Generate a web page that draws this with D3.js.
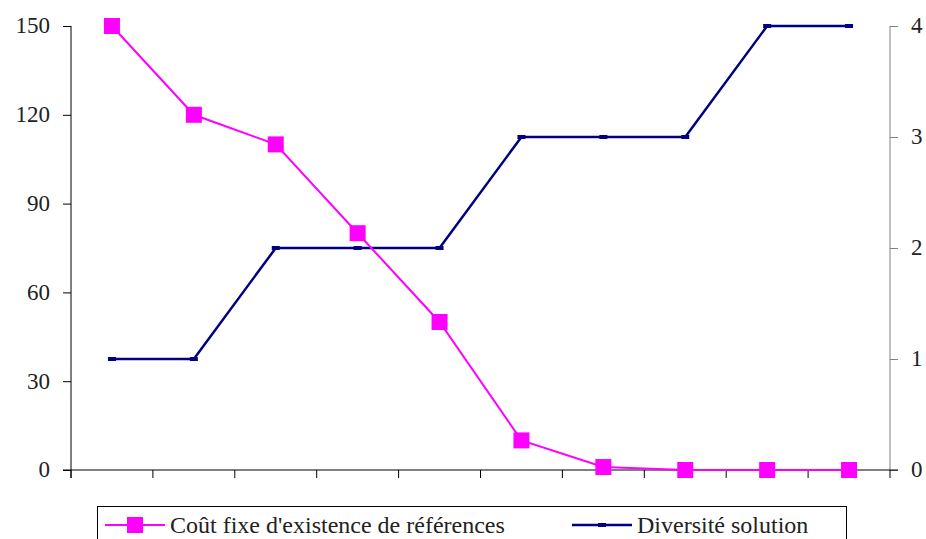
<!DOCTYPE html>
<html>
<head>
<meta charset="utf-8">
<script src="https://cdn.jsdelivr.net/npm/d3@7"></script>
<style>
  body { margin: 0; background: #fff; font-family: 'Liberation Serif', serif; }
  #chart { width: 926px; height: 539px; }
  #chart text { font-family: 'Liberation Serif', serif; }
  #preload { position: absolute; left: 0; top: 0; visibility: hidden; font-family: 'Liberation Serif'; }
</style>
</head>
<body>
<div id="preload">0123456789 Coût fixe d'existence de références Diversité solution</div>
<div id="chart"></div>
<script>
//Datos
const categories = [1, 2, 3, 4, 5, 6, 7, 8, 9, 10];
const coutFixe = [150, 120, 110, 80, 50, 10, 1, 0, 0, 0];
const diversite = [1, 1, 2, 2, 2, 3, 3, 3, 4, 4];
const leftTicks = [0, 30, 60, 90, 120, 150];
const rightTicks = [0, 1, 2, 3, 4];
const seriesNames = ["Coût fixe d'existence de références", "Diversité solution"];

const COLOR_MAGENTA = '#FF00FF',
    COLOR_NAVY = '#000080',
    FONT = 'Liberation Serif';

//Márgenes
let margin = {top: 26, right: 36, bottom: 69, left: 71},
    width = 926 - margin.left - margin.right,
    height = 539 - margin.top - margin.bottom;

let root = d3.select('#chart')
    .append('svg')
        .attr('width', 926)
        .attr('height', 539)
        .attr('font-family', FONT);

let svg = root.append('g')
    .attr('transform', 'translate(' + margin.left + ',' + margin.top + ')');

let x = d3.scaleBand()
    .domain(categories)
    .range([0, width]);

let yLeft = d3.scaleLinear().domain([0, 150]).range([height, 0]);
let yRight = d3.scaleLinear().domain([0, 4]).range([height, 0]);

//Eje izquierdo
let gLeft = svg.append('g')
    .call(d3.axisLeft(yLeft).tickValues(leftTicks).tickFormat(d3.format('d')).tickSize(8).tickPadding(13))
    .attr('font-family', FONT).attr('font-size', 23);
gLeft.select('.domain').attr('d', 'M0,0V' + (height + 8));
gLeft.selectAll('text').attr('fill', '#222').attr('dy', '0.3em');

//Eje derecho
let gRight = svg.append('g')
    .attr('transform', 'translate(' + width + ',0)')
    .call(d3.axisRight(yRight).tickValues(rightTicks).tickFormat(d3.format('d')).tickSize(8).tickPadding(13))
    .attr('font-family', FONT).attr('font-size', 23);
gRight.select('.domain').attr('d', 'M0,0V' + height).attr('stroke', '#808080');
gRight.selectAll('.tick line').attr('stroke', '#808080');
gRight.selectAll('text').attr('fill', '#222').attr('dy', '0.3em');

//Eje inferior: marcas entre categorías
let gBottom = svg.append('g')
    .attr('transform', 'translate(0,' + height + ')');
gBottom.append('line')
    .attr('x1', -8).attr('x2', width + 8)
    .attr('stroke', '#000');
gBottom.selectAll('line.tk')
    .data(categories.concat(['end']))
    .enter()
    .append('line')
    .attr('class', 'tk')
    .attr('x1', function(d, i) { return i * x.step(); })
    .attr('x2', function(d, i) { return i * x.step(); })
    .attr('y1', 0).attr('y2', 8)
    .attr('stroke', '#000');

function cx(d, i) { return x(categories[i]) + x.bandwidth() / 2; }

//Línea diversidad
svg.append('path')
    .datum(diversite)
    .attr('fill', 'none')
    .attr('stroke', COLOR_NAVY)
    .attr('stroke-width', 2.5)
    .attr('d', d3.line().x(cx).y(function(d) { return yRight(d); }));

svg.selectAll('rect.div')
    .data(diversite)
    .enter()
    .append('rect')
    .attr('class', 'div')
    .attr('x', function(d, i) { return cx(d, i) - 4; })
    .attr('y', function(d) { return yRight(d) - 2; })
    .attr('width', 8).attr('height', 4)
    .attr('fill', COLOR_NAVY);

//Línea coste fijo
svg.append('path')
    .datum(coutFixe)
    .attr('fill', 'none')
    .attr('stroke', COLOR_MAGENTA)
    .attr('stroke-width', 2)
    .attr('d', d3.line().x(cx).y(function(d) { return yLeft(d); }));

svg.selectAll('rect.cf')
    .data(coutFixe)
    .enter()
    .append('rect')
    .attr('class', 'cf')
    .attr('x', function(d, i) { return cx(d, i) - 8; })
    .attr('y', function(d) { return yLeft(d) - 8; })
    .attr('width', 16).attr('height', 16)
    .attr('fill', COLOR_MAGENTA);

//Leyenda
let legend = root.append('g');
legend.append('rect')
    .attr('x', 97.5).attr('y', 506.5)
    .attr('width', 749).attr('height', 50)
    .attr('fill', '#fff')
    .attr('stroke', '#000');

function legendItem(x0, textX, color, name, square) {
    legend.append('line')
        .attr('x1', x0).attr('x2', x0 + 60)
        .attr('y1', 525).attr('y2', 525)
        .attr('stroke', color)
        .attr('stroke-width', square ? 2 : 2.5);
    if (square) {
        legend.append('rect')
            .attr('x', x0 + 22).attr('y', 517)
            .attr('width', 16).attr('height', 16)
            .attr('fill', color);
    } else {
        legend.append('rect')
            .attr('x', x0 + 26).attr('y', 523)
            .attr('width', 8).attr('height', 4)
            .attr('fill', color);
    }
    legend.append('text')
        .attr('x', textX).attr('y', 533)
        .attr('font-family', FONT)
        .attr('font-size', 24)
        .attr('fill', '#222')
        .text(name);
}
legendItem(105, 170, COLOR_MAGENTA, seriesNames[0], true);
legendItem(572, 637, COLOR_NAVY, seriesNames[1], false);
</script>
</body>
</html>
